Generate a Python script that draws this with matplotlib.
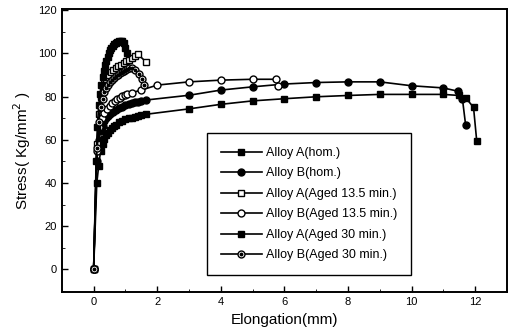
import matplotlib.pyplot as plt
from matplotlib.legend_handler import HandlerTuple
from matplotlib.ticker import MultipleLocator

plt.rcParams['font.family'] = ['Liberation Sans', 'DejaVu Sans']

# Alloy A (hom.)
a_hom_x = [0, 0.1, 0.16, 0.22, 0.28, 0.34, 0.4, 0.46, 0.52, 0.58, 0.64, 0.7, 0.8, 0.9,
           1.0, 1.1, 1.2, 1.3, 1.4, 1.5, 1.65, 3.0, 4.0, 5.0, 6.0, 7.0, 8.0, 9.0, 10.0,
           11.0, 11.5, 11.7, 11.95, 12.05]
a_hom_y = [0, 40, 48, 55, 58, 60.5, 62, 63.3, 64.5, 65.5, 66.3, 67, 68, 68.8, 69.4,
           69.9, 70.3, 70.7, 71, 71.3, 71.8, 74.3, 76.4, 78, 79, 79.9, 80.5, 81, 81,
           81, 80.5, 79.5, 75, 59.5]

# Alloy B (hom.)
b_hom_x = [0, 0.1, 0.16, 0.22, 0.28, 0.34, 0.4, 0.46, 0.52, 0.6, 0.7, 0.8, 0.9, 1.0,
           1.1, 1.2, 1.3, 1.4, 1.5, 1.65, 3.0, 4.0, 5.0, 6.0, 7.0, 8.0, 9.0, 10.0, 11.0,
           11.45, 11.6, 11.7]
b_hom_y = [0, 50, 60, 64, 66.5, 68.5, 70, 71, 72, 73, 73.8, 74.6, 75.3, 75.9, 76.4,
           76.9, 77.3, 77.7, 78, 78.4, 80.6, 83, 84.5, 85.8, 86.5, 86.8, 86.8, 85, 84,
           82.5, 79, 67]

# Alloy A (Aged 13.5 min.)
a135_x = [0, 0.1, 0.16, 0.22, 0.3, 0.38, 0.46, 0.54, 0.62, 0.7, 0.78, 0.86, 0.94, 1.02,
          1.1, 1.2, 1.3, 1.4, 1.65]
a135_y = [0, 58, 72, 80, 85, 88, 90, 91.3, 92.3, 93.2, 94, 94.8, 95.5, 96.3, 97, 97.8,
          98.6, 99.5, 96]

# Alloy B (Aged 13.5 min.)
b135_x = [0, 0.1, 0.18, 0.26, 0.34, 0.42, 0.5, 0.58, 0.66, 0.74, 0.82, 0.9, 0.98, 1.06,
          1.2, 1.5, 2.0, 3.0, 4.0, 5.0, 5.75, 5.8]
b135_y = [0, 55, 66, 70, 72.5, 74.3, 75.8, 77, 78, 78.8, 79.5, 80.1, 80.6, 81.1, 81.8,
          83, 85.3, 86.8, 87.6, 88, 88, 85]

# Alloy A (Aged 30 min.)
a30_x = [0, 0.08, 0.12, 0.16, 0.2, 0.24, 0.28, 0.32, 0.36, 0.4, 0.44, 0.48, 0.52, 0.56,
         0.6, 0.65, 0.7, 0.75, 0.8, 0.85, 0.9, 0.95, 1.0, 1.05]
a30_y = [0, 50, 66, 76, 81, 85.5, 89, 92, 94.5, 96.5, 98.3, 100, 101.5, 102.7, 103.6,
         104.3, 104.9, 105.3, 105.5, 105.6, 105.5, 105, 102.5, 100]

# Alloy B (Aged 30 min.)
b30_x = [0, 0.1, 0.16, 0.22, 0.28, 0.34, 0.4, 0.46, 0.52, 0.58, 0.64, 0.7, 0.76, 0.82,
         0.88, 0.94, 1.0, 1.06, 1.12, 1.2, 1.3, 1.42, 1.52, 1.58]
b30_y = [0, 56, 68, 75, 79, 82, 84, 85.5, 86.8, 87.8, 88.7, 89.5, 90.2, 90.8, 91.3,
         91.8, 92.3, 92.7, 93, 93.2, 92.5, 90.5, 88, 85.5]

labels = ['Alloy A(hom.)', 'Alloy B(hom.)', 'Alloy A(Aged 13.5 min.)',
          'Alloy B(Aged 13.5 min.)', 'Alloy A(Aged 30 min.)', 'Alloy B(Aged 30 min.)']

fig = plt.figure(figsize=(5.11, 3.35), dpi=100)
ax = fig.add_axes([0.121, 0.128, 0.871, 0.845])

lw = 1.2
ms = 5
l1, = ax.plot(a_hom_x, a_hom_y, '-s', color='k', lw=lw, ms=ms)
l2, = ax.plot(b_hom_x, b_hom_y, '-o', color='k', lw=lw, ms=ms)
l3, = ax.plot(a135_x, a135_y, '-s', color='k', mfc='white', mew=1.0, lw=lw, ms=ms)
l4, = ax.plot(b135_x, b135_y, '-o', color='k', mfc='white', mew=1.0, lw=lw, ms=ms)
l5, = ax.plot(a30_x, a30_y, '-s', color='k', lw=lw, ms=ms)
l6, = ax.plot(b30_x, b30_y, '-o', color='k', mfc='white', mew=1.0, lw=lw, ms=ms)
l6b, = ax.plot(b30_x, b30_y, 'o', color='k', ms=1.8, lw=0)

ax.legend([l1, l2, l3, l4, l5, (l6, l6b)], labels,
          handler_map={tuple: HandlerTuple(ndivide=1, pad=0)},
          loc='lower left', bbox_to_anchor=(0.326, 0.06), fontsize=9,
          frameon=True, fancybox=False, edgecolor='k', framealpha=1,
          handlelength=3.3, handletextpad=0.3, borderpad=1.1, labelspacing=0.68,
          borderaxespad=0)

ax.set_xlim(-1, 13)
ax.set_ylim(-10.5, 120.5)
ax.xaxis.set_major_locator(MultipleLocator(2))
ax.xaxis.set_minor_locator(MultipleLocator(1))
ax.yaxis.set_major_locator(MultipleLocator(20))
ax.yaxis.set_minor_locator(MultipleLocator(10))
ax.tick_params(which='both', direction='in', labelsize=8)
ax.tick_params(which='major', length=4, width=1)
ax.tick_params(which='minor', length=2)
for s in ax.spines.values():
    s.set_linewidth(1.4)

ax.set_xlabel('Elongation(mm)', fontsize=11)
ax.set_ylabel('Stress( Kg/mm$^2$ )', fontsize=11)

fig.savefig('out.png', dpi=100)
